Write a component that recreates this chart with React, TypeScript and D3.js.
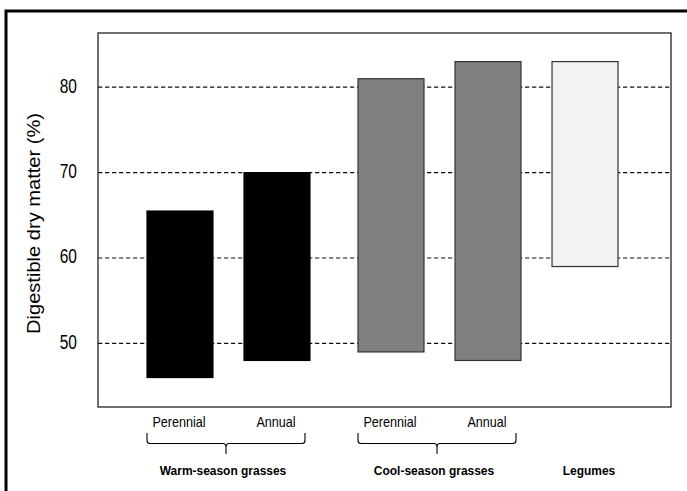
import React from "react";
import * as d3 from "d3";

const barKeys = ["wp", "wa", "cp", "ca", "lg"];
const barGroups = ["Warm", "Warm", "Cool", "Cool", "Legumes"];
const subLabels = ["Perennial", "Annual", "Perennial", "Annual", ""];
const lows = [46, 48, 49, 48, 59];
const highs = [65.5, 70, 81, 83, 83];
const fills = ["#000000", "#000000", "#808080", "#808080", "#f2f2f2"];
const yTicks = [50, 60, 70, 80];
const groupNames = ["Warm", "Cool", "Legumes"];
const groupLabels = ["Warm-season grasses", "Cool-season grasses", "Legumes"];
const yTitle = "Digestible dry matter (%)";

const FONT = "'Liberation Sans', Arial, Helvetica, sans-serif";

function CText(props: {
  x: number; y: number; fs: number; sx: number; anchor?: string; weight?: string; children: React.ReactNode;
}) {
  const { x, y, fs, sx, anchor = "middle", weight = "normal", children } = props;
  return (
    <text transform={`translate(${x},${y}) scale(${sx},1)`} textAnchor={anchor} fontSize={fs} fontWeight={weight} fill="#000">
      {children}
    </text>
  );
}

export default function App() {
  const W = 687, H = 491;
  const plot = { left: 98, right: 671, top: 33, bottom: 407 };
  const y = d3.scaleLinear().domain([42.55, 86.35]).range([plot.bottom, plot.top]);
  const band = d3.scaleBand<string>().domain(barKeys).range([147, 147 + 5 * 97 - 31]).paddingInner(0.32).paddingOuter(0);
  const groupGap = 17;
  const bx = (i: number) => (band(barKeys[i]) as number) + (barGroups[i] !== "Warm" ? groupGap : 0);
  const bw = band.bandwidth();

  const brackets = groupNames.map((g, gi) => {
    const idx = barKeys.map((_, i) => i).filter((i) => barGroups[i] === g);
    const x1 = bx(idx[0]);
    const x2 = bx(idx[idx.length - 1]) + bw;
    return { g, gi, idx, x1, x2 };
  });

  const yTop = 433, yMid = 443.5, yTip = 454;
  const bracePath = (x1: number, x2: number) => {
    const m = (x1 + x2) / 2;
    return `M${x1},${yTop} L${x1},${yMid - 3} Q${x1},${yMid} ${x1 + 3},${yMid} L${m - 3},${yMid} Q${m},${yMid} ${m},${yMid + 4} L${m},${yTip} M${m},${yMid + 4} Q${m},${yMid} ${m + 3},${yMid} L${x2 - 3},${yMid} Q${x2},${yMid} ${x2},${yMid - 3} L${x2},${yTop}`;
  };

  return (
    <svg width={W} height={H} style={{ position: "absolute", left: 0, top: 0, background: "#fff" }} fontFamily={FONT}>
      <rect x={0} y={0} width={W} height={H} fill="#fff" />
      <rect x={6} y={11} width={720} height={520} fill="none" stroke="#000" strokeWidth={3} />
      {yTicks.map((t) => (
        <g key={t}>
          <line x1={plot.left} x2={plot.right} y1={y(t)} y2={y(t)} stroke="#111" strokeWidth={1.2} strokeDasharray="4.3,2.7" />
          <CText x={77} y={y(t) + 5.5} fs={21} sx={0.74} anchor="end">{t}</CText>
        </g>
      ))}
      {barKeys.map((k, i) => (
        <rect key={k} x={bx(i)} y={y(highs[i])} width={bw} height={y(lows[i]) - y(highs[i])}
          fill={fills[i]} stroke={fills[i] === "#000000" ? "#000" : "#333"} strokeWidth={1.2} />
      ))}
      <rect x={plot.left} y={plot.top} width={plot.right - plot.left} height={plot.bottom - plot.top} fill="none" stroke="#222" strokeWidth={1.3} />
      <text transform={`translate(39.5,${223.5}) rotate(-90)`} textAnchor="middle" fontSize={18} fill="#000"
        textLength={221} lengthAdjust="spacingAndGlyphs">{yTitle}</text>
      {barKeys.map((k, i) => subLabels[i] ? (
        <CText key={"s" + k} x={bx(i) + bw / 2 - 1} y={426.7} fs={14} sx={0.9}>{subLabels[i]}</CText>
      ) : null)}
      {brackets.map((b) => {
        const multi = b.idx.length > 1;
        const right = multi ? b.x2 - 5 : b.x2;
        const mid = (b.x1 + right) / 2;
        return (
          <g key={b.g}>
            {multi ? <path d={bracePath(b.x1, right)} fill="none" stroke="#000" strokeWidth={1.1} /> : null}
            <CText x={multi ? mid - 3 : mid + 4} y={475} fs={13.3} sx={0.9} weight="bold">{groupLabels[b.gi]}</CText>
          </g>
        );
      })}
    </svg>
  );
}
